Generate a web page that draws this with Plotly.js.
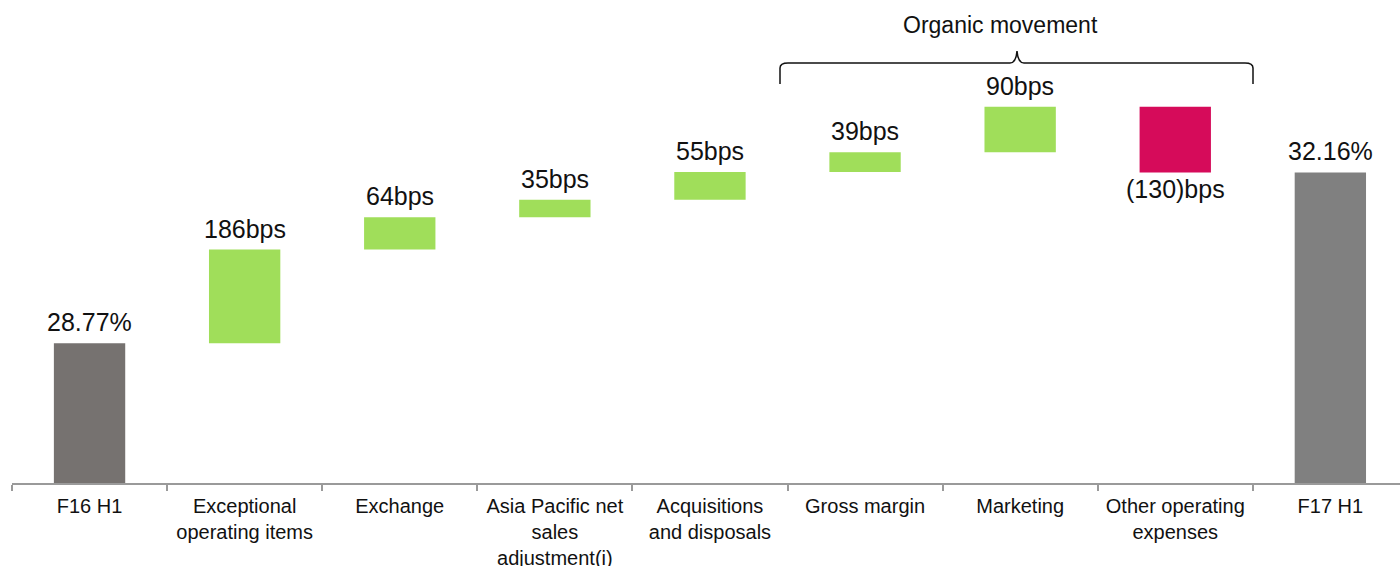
<!DOCTYPE html>
<html><head><meta charset="utf-8">
<script src="https://cdn.plot.ly/plotly-3.0.1.min.js"></script>
<style>html,body{margin:0;padding:0;background:#fff}#chart{width:1400px;height:566px}</style>
</head><body><div id="chart"></div>
<script>
const categories = ["F16 H1","Exceptional<br>operating items","Exchange","Asia Pacific net<br>sales<br>adjustment(i)","Acquisitions<br>and disposals","Gross margin","Marketing","Other operating<br>expenses","F17 H1"];
const kinds = ["total","step","step","step","step","step","step","step","total"];
const values = [28.77, 1.86, 0.64, 0.35, 0.55, 0.39, 0.90, -1.30, 32.16];
const labels = ["28.77%","186bps","64bps","35bps","55bps","39bps","90bps","(130)bps","32.16%"];
const colors = ["#767270","#a0de5a","#a0de5a","#a0de5a","#a0de5a","#a0de5a","#a0de5a","#d60b5a","#808080"];
const axisMin = 26;

const bases = [], heights = [];
let run = 0;
for (let i = 0; i < values.length; i++) {
  if (kinds[i] === "total") { bases.push(axisMin); heights.push(values[i] - axisMin); run = values[i]; }
  else { bases.push(run); heights.push(values[i]); run += values[i]; }
}

const trace = {
  type: "bar", x: categories, y: heights, base: bases,
  marker: {color: colors, line: {width: 0}},
  width: 0.46, hoverinfo: "none"
};

const FONT = "Liberation Sans, Arial, sans-serif";
const valueAnns = categories.map((c, i) => {
  const neg = heights[i] < 0;
  return {
    x: c, y: neg ? bases[i] + heights[i] : bases[i] + heights[i], xref: "x", yref: "y",
    text: labels[i], showarrow: false, borderpad: 0,
    xanchor: "center", yanchor: neg ? "top" : "bottom", yshift: neg ? -2 : 6,
    font: {family: FONT, size: 25, color: "#111"}
  };
});

const bx = v => (v - 12) / 1388, by = v => (483 - v) / 478;
const brace = `M ${bx(780)} ${by(84)} L ${bx(780)} ${by(68)} Q ${bx(780)} ${by(63)} ${bx(788)} ${by(63)} L ${bx(1010)} ${by(63)} Q ${bx(1016)} ${by(63)} ${bx(1017)} ${by(51)} Q ${bx(1018)} ${by(63)} ${bx(1024)} ${by(63)} L ${bx(1245)} ${by(63)} Q ${bx(1253)} ${by(63)} ${bx(1253)} ${by(68)} L ${bx(1253)} ${by(84)}`;

const layout = {
  width: 1400, height: 566,
  margin: {l: 12, r: 0, t: 5, b: 83},
  paper_bgcolor: "#fff", plot_bgcolor: "#fff",
  showlegend: false,
  font: {family: FONT, color: "#111"},
  xaxis: {
    type: "category", range: [-0.5, 8.449], fixedrange: true,
    showline: true, linecolor: "#9a9a9a", linewidth: 2,
    ticks: "outside", tickson: "boundaries", ticklen: 6, tickcolor: "#9a9a9a", tickwidth: 2,
    ticklabelstandoff: 4,
    tickfont: {family: FONT, size: 20, color: "#111"}, showgrid: false, zeroline: false
  },
  yaxis: {range: [26, 35.48], visible: false, showgrid: false, zeroline: false, fixedrange: true},
  shapes: [{type: "path", xref: "paper", yref: "paper", path: brace, line: {color: "#111", width: 1.5}}],
  annotations: valueAnns.concat([{xref: "paper", yref: "paper", x: bx(1000), y: by(25), text: "Organic movement", showarrow: false,
    font: {family: FONT, size: 23, color: "#111"}, xanchor: "center", yanchor: "middle"}])
};

Plotly.newPlot("chart", [trace], layout, {displayModeBar: false, staticPlot: true});
</script></body></html>
